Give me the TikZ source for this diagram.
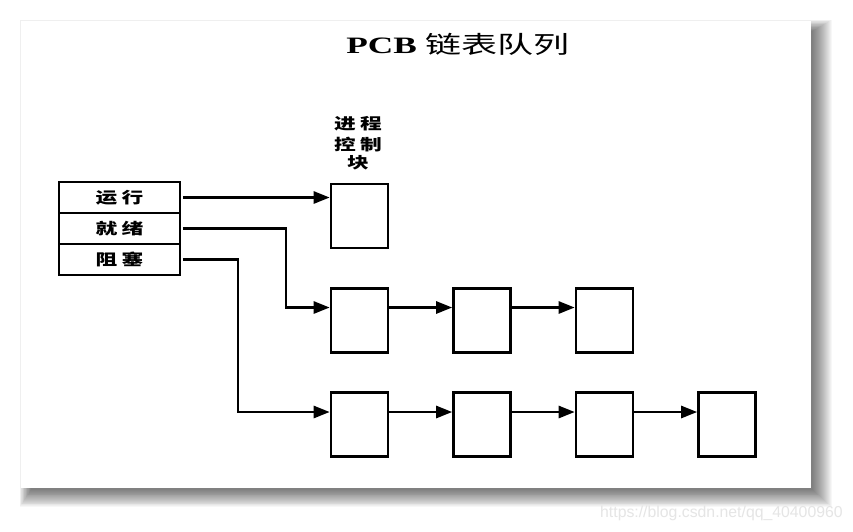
\documentclass[tikz,border=0pt]{standalone}
\usepackage{fontspec}
\usepackage{graphicx}
\setmainfont{Liberation Serif}
\newfontfamily\cjk{Noto Sans CJK SC}
\newfontfamily\wmfont{Liberation Sans}
\usetikzlibrary{arrows.meta}
\newcommand\wide[1]{\scalebox{1.4}[1]{#1}}
\tikzset{
  ln/.style={line width=2.6pt},
  statebox/.style={draw,ln,minimum width=121pt,minimum height=31pt,inner sep=0pt,
    font=\cjk\bfseries\fontsize{15.5}{15.5}\selectfont},
  pcb/.style={draw,ln,minimum width=57pt,minimum height=64pt,inner sep=0pt},
  arr/.style={ln,-{Triangle[length=16pt,width=12pt]}},
}
\begin{document}
\begin{tikzpicture}[x=1pt,y=-1pt]
\useasboundingbox (0,0) rectangle (853,531);
\fill[white] (0,0) rectangle (853,531);
% shadow
\foreach \i in {0,...,19}
  \fill[black,opacity=0.03] ({21+10-\i*0.6},{21+10-\i*0.6}) rectangle ({811+2+\i*1.0},{488+2+\i*0.9});
\fill[white] (21,21) rectangle (811,488);
% title
\node (title) at (458,44) {\scalebox{1.5}[1]{\fontsize{23.5}{24}\selectfont\bfseries PCB\hspace{0.25em}{\cjk\mdseries\fontsize{24}{24}\selectfont 链表队列}}};
% state table
\node[statebox] (s1) at (119.5,197.5) {\wide{运\hspace{3pt}行}};
\node[statebox] (s2) at (119.5,228.5) {\wide{就\hspace{3pt}绪}};
\node[statebox] (s3) at (119.5,259.5) {\wide{阻\hspace{3pt}塞}};
% pcb boxes
\node[pcb] (b1) at (359.5,216) {};
\node[pcb] (b21) at (359.5,320.5) {};
\node[pcb] (b22) at (482,320.5) {};
\node[pcb] (b23) at (604.5,320.5) {};
\node[pcb] (b31) at (359.5,424.5) {};
\node[pcb] (b32) at (482,424.5) {};
\node[pcb] (b33) at (604.5,424.5) {};
\node[pcb] (b34) at (727,424.5) {};
% label
\node[align=center,font=\cjk\bfseries\fontsize{15.5}{21}\selectfont,inner sep=0pt] (lbl) at (358,143)
  {\wide{进\hspace{3pt}程}\\\wide{控\hspace{3pt}制}\\[-3pt]\wide{块}};
% connectors
\coordinate (k2) at (286,0);
\coordinate (k3) at (238,0);
\draw[arr,shorten <=1.5pt] (s1.east) -- (s1.east -| b1.west);
\draw[arr,shorten <=1.5pt] (s2.east) -| ([yshift=13pt]b21.west -| k2) -- ([yshift=13pt]b21.west);
\draw[arr,shorten <=1.5pt] (s3.east) -| ([yshift=12.5pt]b31.west -| k3) -- ([yshift=12.5pt]b31.west);
\draw[arr] ([yshift=13pt]b21.east) -- ([yshift=13pt]b22.west);
\draw[arr] ([yshift=13pt]b22.east) -- ([yshift=13pt]b23.west);
\draw[arr] ([yshift=12.5pt]b31.east) -- ([yshift=12.5pt]b32.west);
\draw[arr] ([yshift=12.5pt]b32.east) -- ([yshift=12.5pt]b33.west);
\draw[arr] ([yshift=12.5pt]b33.east) -- ([yshift=12.5pt]b34.west);
% watermark
\node[anchor=base west,inner sep=0pt,text=black!10,font=\wmfont\fontsize{15.8}{16}\selectfont] (wm) at (600,517) {https://blog.csdn.net/qq\_40400960};
\end{tikzpicture}
\end{document}
